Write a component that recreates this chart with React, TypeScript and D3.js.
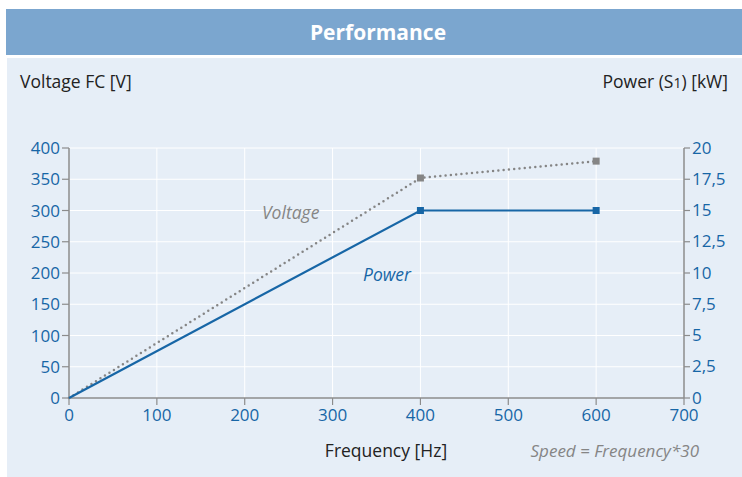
import React from "react";
import { scaleLinear, line } from "d3";

const frequency = [0, 400, 600];
const voltage = [0, 352, 379];
const power = [0, 15, 15];
const xTicks = [0, 100, 200, 300, 400, 500, 600, 700];
const yTicksLeft = [0, 50, 100, 150, 200, 250, 300, 350, 400];
const yTicksRight = [0, 2.5, 5, 7.5, 10, 12.5, 15, 17.5, 20];

const W = 742;
const H = 477;
const FONT = "'Open Sans', 'Noto Sans', sans-serif";
const BLUE = "#1766a6";
const GREY = "#858585";
const AXIS = "#8c8c8c";

export default function App() {
  const x = scaleLinear().domain([0, 700]).range([69, 684]);
  const yL = scaleLinear().domain([0, 400]).range([398, 148]);
  const yR = scaleLinear().domain([0, 20]).range([398, 148]);

  const vLine = line<number>()
    .x((_, i) => x(frequency[i]))
    .y((d) => yL(d));
  const pLine = line<number>()
    .x((_, i) => x(frequency[i]))
    .y((d) => yR(d));

  const fmt = (v: number) => String(v).replace(".", ",");

  return (
    <svg
      width={W}
      height={H}
      style={{ position: "absolute", left: 0, top: 0 }}
      fontFamily={FONT}
    >
      <rect x={0} y={0} width={W} height={H} fill="#fff" />
      {/* header */}
      <rect x={6} y={9} width={W - 6} height={46} fill="#7ba6cf" />
      <text x={378} y={40} textAnchor="middle" fill="#fff" fontSize={21} fontWeight={700}>
        Performance
      </text>
      {/* body */}
      <rect x={7} y={58} width={W - 7} height={H - 58} fill="#e6eef7" />

      <text x={20} y={88} fontSize={17.5} fill="#222">Voltage FC [V]</text>
      <text x={728} y={88} fontSize={17.5} fill="#222" textAnchor="end">
        Power (S<tspan fontSize={14}>1</tspan>) [kW]
      </text>

      {/* grid */}
      {xTicks.slice(1, -1).map((t) => (
        <line key={"gx" + t} x1={x(t)} x2={x(t)} y1={yL(400)} y2={yL(0)} stroke="#fff" strokeWidth={1} />
      ))}
      {yTicksLeft.slice(1).map((t) => (
        <line key={"gy" + t} x1={x(0)} x2={x(700)} y1={yL(t)} y2={yL(t)} stroke="#fff" strokeWidth={1} />
      ))}

      {/* axes */}
      <line x1={x(0)} x2={x(0)} y1={yL(400)} y2={yL(0)} stroke={AXIS} strokeWidth={1.5} />
      <line x1={x(700)} x2={x(700)} y1={yL(400)} y2={yL(0)} stroke={AXIS} strokeWidth={1.5} />
      <line x1={x(0)} x2={x(700)} y1={yL(0)} y2={yL(0)} stroke={AXIS} strokeWidth={1.5} />

      {yTicksLeft.map((t) => (
        <g key={"yl" + t}>
          <line x1={x(0) - 7} x2={x(0)} y1={yL(t)} y2={yL(t)} stroke={AXIS} strokeWidth={1.2} />
          <text x={x(0) - 9} y={yL(t) + 6} textAnchor="end" fontSize={17} fill={BLUE}>{t}</text>
        </g>
      ))}
      {yTicksRight.map((t) => (
        <g key={"yr" + t}>
          <line x1={x(700)} x2={x(700) + 6} y1={yR(t)} y2={yR(t)} stroke={AXIS} strokeWidth={1.2} />
          <text x={x(700) + 8} y={yR(t) + 5.5} fontSize={17} fill={BLUE}>{fmt(t)}</text>
        </g>
      ))}
      {xTicks.map((t) => (
        <g key={"xt" + t}>
          <line x1={x(t)} x2={x(t)} y1={yL(0)} y2={yL(0) + 7} stroke={AXIS} strokeWidth={1.2} />
          <text x={x(t)} y={yL(0) + 23} textAnchor="middle" fontSize={17} fill={BLUE}>{t}</text>
        </g>
      ))}

      {/* series */}
      <path d={vLine(voltage) ?? ""} fill="none" stroke={GREY} strokeWidth={2.5} strokeDasharray="0 5.3" strokeLinecap="round" />
      <path d={pLine(power) ?? ""} fill="none" stroke={BLUE} strokeWidth={2.2} />
      {frequency.slice(1).map((f, i) => (
        <rect key={"vm" + f} x={x(f) - 3.5} y={yL(voltage[i + 1]) - 3.5} width={7} height={7} fill={GREY} />
      ))}
      {frequency.slice(1).map((f, i) => (
        <rect key={"pm" + f} x={x(f) - 3.5} y={yR(power[i + 1]) - 3.5} width={7} height={7} fill={BLUE} />
      ))}

      <text x={262} y={219} fontSize={17.5} fontStyle="italic" fill={GREY}>Voltage</text>
      <text x={363} y={281} fontSize={17.5} fontStyle="italic" fill={BLUE}>Power</text>

      <text x={386} y={457} textAnchor="middle" fontSize={17.5} fill="#222">Frequency [Hz]</text>
      <text x={699} y={457} textAnchor="end" fontSize={17} fontStyle="italic" fill={GREY}>
        Speed = Frequency*30
      </text>
    </svg>
  );
}
